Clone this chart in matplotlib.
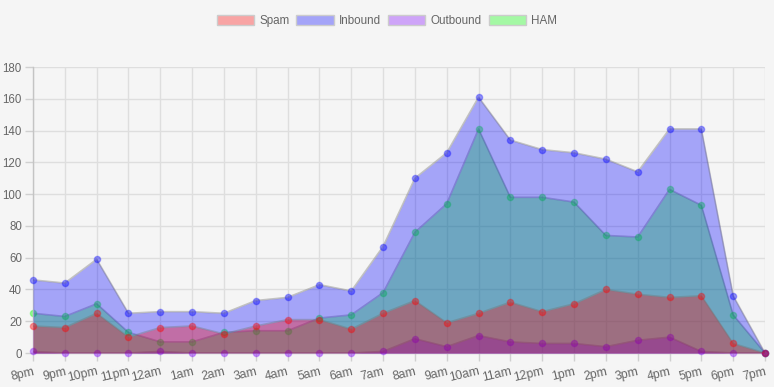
import matplotlib.pyplot as plt
from matplotlib.patches import Patch

plt.rcParams['font.family'] = ['Liberation Sans', 'DejaVu Sans']

# hourly counts, 8pm -> 7pm
hours = ["8pm", "9pm", "10pm", "11pm", "12am", "1am", "2am", "3am", "4am", "5am",
         "6am", "7am", "8am", "9am", "10am", "11am", "12pm", "1pm", "2pm", "3pm",
         "4pm", "5pm", "6pm", "7pm"]
spam = [17, 16, 25, 10, 16, 17, 12, 17, 21, 21, 15, 25, 33, 19, 25, 32, 26, 31, 40, 37, 35, 36, 6, 0]
inbound = [46, 44, 59, 25, 26, 26, 25, 33, 35, 43, 39, 67, 110, 126, 161, 134, 128, 126, 122, 114, 141, 141, 36, 0]
outbound = [1, 0, 0, 0, 1, 0, 0, 0, 0, 0, 0, 1, 9, 4, 11, 7, 6, 6, 4, 8, 10, 1, 0, 0]
ham = [25, 23, 31, 13, 7, 7, 13, 14, 14, 22, 24, 38, 76, 94, 141, 98, 98, 95, 74, 73, 103, 93, 24, 0]

BG = "#f5f5f5"
TXT = "#666666"

series = [
    ("Spam", spam, (1.0, 0.0, 0.0)),
    ("Inbound", inbound, (0.0, 0.0, 1.0)),
    ("Outbound", outbound, (0.5, 0.0, 1.0)),
    ("HAM", ham, (0.0, 1.0, 0.0)),
]

fig = plt.figure(figsize=(7.74, 3.87), dpi=100, facecolor=BG)
ax = fig.add_axes([33 / 774, 34 / 387, 732 / 774, 286 / 387])
ax.set_facecolor(BG)

x = list(range(len(hours)))

# drawn last-dataset-first, so Spam ends up on top
for i, (name, vals, col) in enumerate(reversed(series)):
    z = 2 + i
    ax.fill_between(x, 0, vals, color=col, alpha=0.33, linewidth=0, zorder=z)
    ax.plot(x, vals, color=(0.45, 0.45, 0.45, 0.4), linewidth=1.2, zorder=z + 0.1)
    ax.plot(x, vals, linestyle="none", marker="o", markersize=4.5,
            markerfacecolor=col + (0.4,), markeredgecolor=col + (0.3,),
            markeredgewidth=1, zorder=z + 0.2, clip_on=False)

ax.set_xlim(0, len(hours) - 1)
ax.set_ylim(0, 180)
ax.set_yticks(range(0, 181, 20))
ax.set_xticks(x)
ax.set_xticklabels(hours, rotation=13, ha="right", rotation_mode="anchor")

ax.grid(True, color="#dedede", linewidth=1, zorder=0)
ax.set_axisbelow(True)
ax.tick_params(colors="#d0d0d0", labelcolor=TXT, length=6, width=1, pad=2)
ax.tick_params(axis="y", labelsize=8.3)
ax.tick_params(axis="x", labelsize=8.8, pad=3)
for s in ["top", "right"]:
    ax.spines[s].set_visible(False)
for s in ["left", "bottom"]:
    ax.spines[s].set_color("#c4c4c4")
    ax.spines[s].set_linewidth(1)

handles = [Patch(facecolor=col + (0.33,), edgecolor=(0.8, 0.8, 0.8, 1), linewidth=1, label=name)
           for name, vals, col in series]
fig.legend(handles=handles, loc="center", bbox_to_anchor=(0.5, 1 - 21 / 387), ncol=4,
           frameon=False, fontsize=8.4, labelcolor=TXT, handlelength=3.2, handleheight=1.0,
           handletextpad=0.45, columnspacing=0.6)

fig.savefig("out.png", dpi=100, facecolor=BG)
